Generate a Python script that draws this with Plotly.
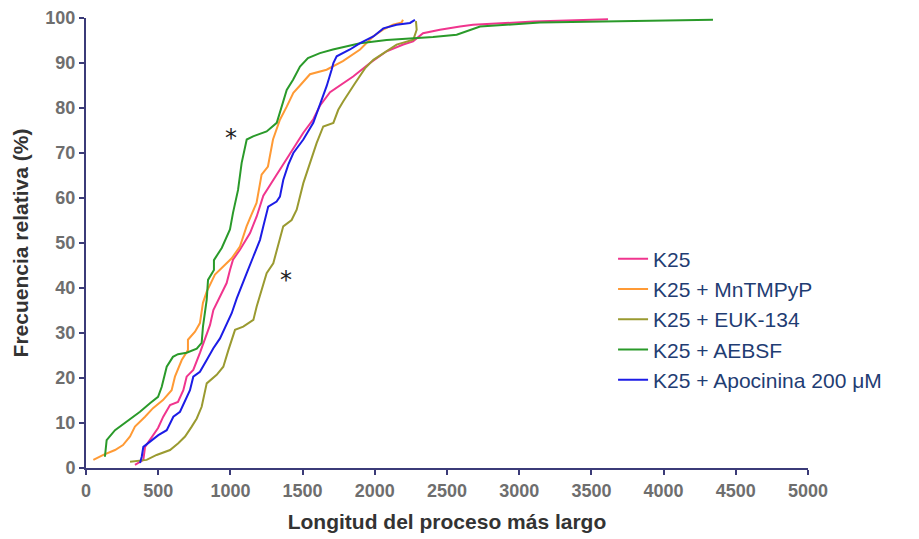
import plotly.graph_objects as go

# Cumulative frequency curves (longest process length vs. relative frequency %)
k25_x = [339, 397, 409, 455, 499, 535, 582, 637, 674, 697, 743, 789, 824, 859, 882, 928, 974, 997,
         1018, 1066, 1136, 1182, 1228, 1297, 1366, 1436, 1505, 1574, 1620, 1690, 1759, 1850, 1967,
         2082, 2197, 2265, 2334, 2451, 2590, 2680, 3100, 3615]
k25_y = [0.7, 1.8, 4.7, 7.0, 8.9, 11.4, 14.0, 14.7, 17.3, 20.3, 21.8, 25.6, 28.5, 31.8, 35.1, 38.1, 41.1, 44.0,
         46.3, 48.5, 52.2, 55.9, 60.5, 64.0, 67.5, 71.0, 74.5, 77.5, 80.5, 83.5, 85.0, 87.0, 90.0,
         92.6, 94.1, 94.8, 96.6, 97.4, 98.1, 98.5, 99.2, 99.7]

mn_x = [51, 120, 201, 256, 305, 339, 409, 464, 533, 593, 616, 663, 706, 706, 755, 789, 810, 836, 893,
        949, 1009, 1066, 1112, 1146, 1181, 1216, 1260, 1295, 1343, 1390, 1436, 1482, 1551, 1666, 1779,
        1898, 1988, 2057, 2126, 2186, 2195]
mn_y = [1.8, 2.9, 4.0, 5.1, 7.0, 9.2, 11.4, 13.3, 15.1, 17.3, 20.3, 24.0, 26.2, 28.5, 30.3, 32.2, 36.7, 39.2, 43.0,
        44.8, 46.6, 49.2, 53.7, 56.3, 58.9, 65.2, 67.0, 73.0, 77.4, 80.3, 83.4, 85.0, 87.5, 88.5, 90.4,
        93.0, 95.9, 97.4, 98.5, 99.0, 99.6]

euk_x = [305, 420, 489, 582, 639, 686, 732, 767, 801, 836, 905, 951, 986, 1032, 1089, 1159, 1182, 1216,
         1251, 1297, 1343, 1366, 1424, 1459, 1505, 1551, 1597, 1643, 1713, 1747, 1782, 1863, 1932, 1990,
         2059, 2151, 2267, 2290, 2285]
euk_y = [1.4, 1.8, 2.9, 4.0, 5.5, 7.0, 9.2, 11.0, 13.6, 18.8, 20.7, 22.5, 26.2, 30.7, 31.4, 32.9, 35.9, 39.6,
         43.3, 45.5, 50.7, 53.7, 55.1, 57.4, 63.3, 67.8, 72.2, 75.9, 76.7, 79.6, 81.5, 85.5, 88.8, 90.7,
         92.2, 94.1, 95.2, 97.4, 99.3]

aebsf_x = [131, 143, 201, 282, 374, 443, 499, 524, 559, 602, 637, 697, 767, 801, 810, 836, 845, 886, 886,
           940, 997, 1018, 1053, 1078, 1113, 1157, 1251, 1321, 1355, 1390, 1434, 1482, 1537, 1620, 1710,
           1898, 2082, 2244, 2403, 2567, 2659, 2729, 3144, 4342]
aebsf_y = [2.5, 6.2, 8.4, 10.3, 12.5, 14.4, 15.8, 18.0, 22.5, 24.7, 25.3, 25.6, 26.5, 27.8, 31.4, 37.4, 41.8, 44.0, 46.2,
           48.9, 53.0, 56.7, 61.8, 67.8, 73.0, 73.7, 74.8, 76.7, 80.3, 84.0, 86.3, 89.2, 91.1, 92.2, 93.0,
           94.4, 95.1, 95.4, 95.8, 96.3, 97.4, 98.1, 99.0, 99.6]

apo_x = [374, 386, 397, 443, 501, 559, 605, 651, 686, 720, 743, 789, 836, 882, 928, 974, 1009, 1044, 1078,
         1113, 1159, 1205, 1228, 1262, 1320, 1343, 1366, 1401, 1436, 1505, 1574, 1608, 1644, 1667, 1701,
         1713, 1736, 1828, 1898, 1990, 2059, 2151, 2244, 2278]
apo_y = [1.1, 2.5, 4.7, 5.9, 7.3, 8.4, 11.4, 12.5, 15.1, 17.3, 20.3, 21.4, 24.0, 26.6, 28.8, 31.8, 34.4, 37.7, 40.3,
         43.3, 47.0, 50.7, 53.7, 58.1, 59.2, 60.3, 64.0, 67.4, 70.0, 73.0, 76.7, 79.6, 82.6, 84.9, 88.5,
         90.0, 91.5, 93.0, 94.4, 95.9, 97.7, 98.5, 98.9, 99.6]

series = [
    ("K25", k25_x, k25_y, "#f0358e"),
    ("K25 + MnTMPyP", mn_x, mn_y, "#ff9a35"),
    ("K25 + EUK-134", euk_x, euk_y, "#9a9a30"),
    ("K25 + AEBSF", aebsf_x, aebsf_y, "#2a9a2a"),
    ("K25 + Apocinina 200 μM", apo_x, apo_y, "#1c1ce6"),
]

x_ticks = list(range(0, 5001, 500))
y_ticks = list(range(0, 101, 10))

# significance markers: (x, y) in data units
stars = [(1005, 73.4), (1385, 41.8)]

fig = go.Figure()
for name, xs, ys, color in series:
    fig.add_trace(go.Scatter(x=xs, y=ys, mode="lines", name=name,
                             line=dict(color=color, width=2)))

for sx, sy in stars:
    fig.add_annotation(x=sx, y=sy, text="*", showarrow=False,
                       font=dict(family="DejaVu Sans", size=24, color="#222222"))

axis_color = "#3b3b78"
tick_font = dict(family="Liberation Sans", size=18, color="#6e6e6e")
title_font = dict(family="Liberation Sans", size=21, color="#333333")

fig.update_layout(
    width=919, height=539,
    margin=dict(l=86, r=111, t=18, b=71),
    paper_bgcolor="white", plot_bgcolor="white",
    showlegend=True,
    legend=dict(x=0.73, y=0.51, xanchor="left", yanchor="top",
                font=dict(family="Liberation Sans", size=21, color="#1f3d73"),
                bgcolor="rgba(0,0,0,0)", itemwidth=30),
    xaxis=dict(range=[0, 5000], tickvals=x_ticks, ticktext=[f"<b>{v}</b>" for v in x_ticks],
               showgrid=False, zeroline=False, showline=True, linecolor=axis_color, linewidth=2,
               ticks="outside", ticklen=5, tickwidth=2, tickcolor=axis_color,
               tickfont=tick_font, automargin=False,
               title=dict(text="<b>Longitud del proceso más largo</b>", font=title_font, standoff=15)),
    yaxis=dict(range=[0, 100], tickvals=y_ticks, ticktext=[f"<b>{v}</b>" for v in y_ticks],
               showgrid=False, zeroline=False, showline=True, linecolor=axis_color, linewidth=2,
               ticks="outside", ticklen=5, tickwidth=2, tickcolor=axis_color,
               tickfont=tick_font, automargin=False,
               title=dict(text="<b>Frecuencia relativa (%)</b>", font=title_font, standoff=11)),
)

fig.write_html("out.html")
